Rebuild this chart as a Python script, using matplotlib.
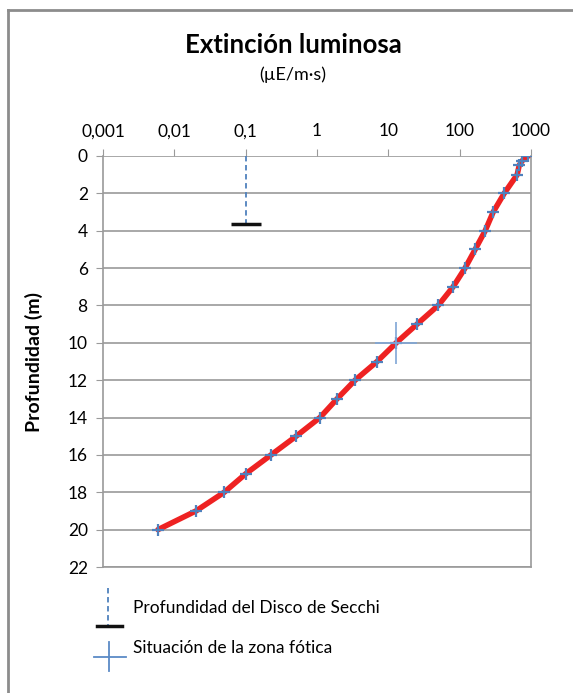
import matplotlib
matplotlib.use("Agg")
import matplotlib.pyplot as plt
import matplotlib.lines as lines

plt.rcParams['font.family'] = ['Lato', 'DejaVu Sans']

# light profile
depth = [0, 0.25, 0.5, 1, 2, 3, 4, 5, 6, 7, 8, 9, 10, 11, 12, 13, 14, 15, 16, 17, 18, 19, 20]
light = [912, 753, 684, 640, 421, 295, 228, 165, 119, 81, 50, 25.3, 12.9, 6.96, 3.42, 1.91,
         1.10, 0.51, 0.227, 0.101, 0.050, 0.0201, 0.0059]

# Secchi disk and photic zone
secchiX = 0.1
secchiDepth = 3.65
photicX = 12.9
photicDepth = 10

xTicks = [0.001, 0.01, 0.1, 1, 10, 100, 1000]
xTickLabels = ["0,001", "0,01", "0,1", "1", "10", "100", "1000"]
yTicks = list(range(0, 23, 2))

W, H = 573, 693
fig = plt.figure(figsize=(W / 100, H / 100), dpi=100)
ax = fig.add_axes([103 / W, 1 - 567 / H, 428 / W, 411 / H])

gray = "#9a9a9a"
blue = "#4f81bd"

ax.set_xscale("log")
ax.set_xlim(0.001, 1000)
ax.set_ylim(22, 0)
ax.set_xticks(xTicks)
ax.set_xticklabels(xTickLabels)
ax.minorticks_off()
ax.set_yticks(yTicks)
ax.xaxis.tick_top()
ax.tick_params(axis='x', direction='out', length=5, color=gray, labelsize=12.5, pad=7)
ax.tick_params(axis='y', direction='out', length=5, color=gray, labelsize=12.5, pad=6)
ax.grid(True, axis='y', color=gray, linewidth=1.2)
for s in ax.spines.values():
    s.set_color(gray)
    s.set_linewidth(1.2)
ax.spines['top'].set_visible(False)
ax.set_axisbelow(True)

# Secchi depth
ax.plot([secchiX, secchiX], [0, secchiDepth], linestyle=(0, (3, 2)), color=blue, linewidth=1.3)
ax.plot([secchiX], [secchiDepth], marker='_', markersize=21, markeredgewidth=2.5, color='#111111')

# profile
ax.plot(light, depth, color='#ee2222', linewidth=4, solid_capstyle='round', zorder=3)
ax.plot(light, depth, linestyle='', marker='+', markersize=9, markeredgewidth=1.6, color=blue, zorder=4)

# photic zone marker
ax.plot([photicX], [photicDepth], marker='+', markersize=30, markeredgewidth=1.2, color='#7fa6d6', zorder=5)

ax.set_ylabel("Profundidad (m)", fontsize=14, fontweight='bold', labelpad=18)

fig.text(293 / W, 1 - 45 / H, "Extinción luminosa", ha='center', va='center', fontsize=18.5, fontweight='bold')
fig.text(293 / W, 1 - 75 / H, "(µE/m·s)", ha='center', va='center', fontsize=13)

# chart border
tr = fig.transFigure
fig.add_artist(lines.Line2D([8 / W, 8 / W], [0, 1 - 10 / H], color='#8c8c8c', linewidth=2, transform=tr))
fig.add_artist(lines.Line2D([8 / W, 1], [1 - 10 / H, 1 - 10 / H], color='#8c8c8c', linewidth=2, transform=tr))

# legend
fig.add_artist(lines.Line2D([108 / W, 108 / W], [1 - 588 / H, 1 - 625 / H], color=blue,
                            linestyle=(0, (3, 2)), linewidth=1.3, transform=tr))
fig.add_artist(lines.Line2D([97 / W, 122 / W], [1 - 626 / H, 1 - 626 / H], color='#111111',
                            linewidth=2.5, transform=tr))
fig.add_artist(lines.Line2D([94 / W, 126 / W], [1 - 657 / H, 1 - 657 / H], color='#5b8ac6',
                            linewidth=1.3, transform=tr))
fig.add_artist(lines.Line2D([109 / W, 109 / W], [1 - 642 / H, 1 - 671 / H], color='#5b8ac6',
                            linewidth=1.3, transform=tr))
fig.text(133 / W, 1 - 608 / H, "Profundidad del Disco de Secchi", ha='left', va='center', fontsize=12.5)
fig.text(133 / W, 1 - 648 / H, "Situación de la zona fótica", ha='left', va='center', fontsize=12.5)

fig.savefig("out.png", dpi=100)
